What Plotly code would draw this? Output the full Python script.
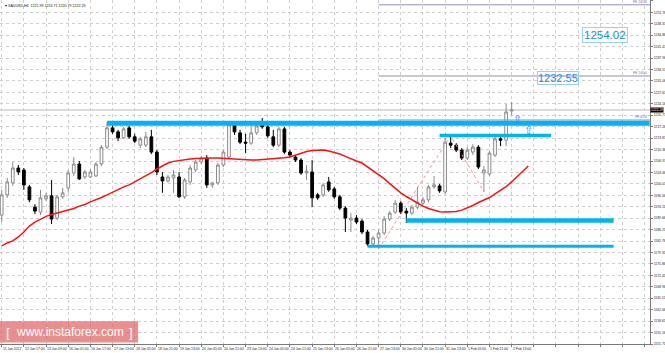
import plotly.graph_objects as go

# ---------------- data (XAUUSD H4) ----------------
opens = [1190.6, 1196.7, 1200.3, 1204.8, 1204.2, 1199.1, 1193.0, 1191.5, 1195.5, 1196.4,
         1189.7, 1196.1, 1198.8, 1203.3, 1206.0, 1202.1, 1202.1, 1202.4, 1206.0, 1211.1,
         1216.9, 1215.7, 1213.9, 1216.9, 1214.2, 1211.7, 1211.7, 1214.2, 1209.6, 1202.1,
         1200.9, 1201.8, 1202.1, 1196.1, 1200.6, 1204.2, 1206.6, 1207.8, 1199.7, 1200.3,
         1205.7, 1208.1, 1217.8, 1215.4, 1212.6, 1212.3, 1215.4, 1217.8, 1217.2, 1214.2,
         1211.7, 1216.6, 1209.6, 1208.1, 1207.2, 1203.3, 1203.6, 1196.7, 1196.7, 1200.6,
         1198.5, 1196.1, 1192.7, 1189.1, 1189.7, 1188.8, 1185.5, 1181.9, 1183.7, 1185.2,
         1189.4, 1191.5, 1194.2, 1191.8, 1191.2, 1193.0, 1194.2, 1195.2, 1199.1, 1199.4,
         1197.6, 1212.3, 1211.7, 1210.2, 1207.8, 1209.6, 1211.1, 1203.3, 1203.0, 1208.7,
         1213.6, 1213.2, 1221.99]
highs = [1198.2, 1201.8, 1206.6, 1205.7, 1204.8, 1199.7, 1193.9, 1198.2, 1197.3, 1201.2,
         1196.7, 1198.8, 1204.2, 1208.1, 1206.9, 1204.2, 1204.5, 1206.6, 1211.7, 1218.7,
         1218.7, 1216.3, 1217.2, 1217.5, 1215.1, 1214.2, 1215.7, 1216.3, 1210.2, 1203.6,
         1202.7, 1204.2, 1203.6, 1201.8, 1205.7, 1207.2, 1208.4, 1208.7, 1200.6, 1206.3,
         1210.2, 1218.9, 1218.7, 1216.3, 1215.1, 1218.4, 1218.1, 1219.9, 1217.8, 1216.3,
         1217.2, 1217.2, 1210.2, 1208.7, 1207.8, 1205.7, 1207.2, 1197.3, 1200.3, 1202.1,
         1199.1, 1196.7, 1193.3, 1191.2, 1190.6, 1189.4, 1186.1, 1184.3, 1186.1, 1190.3,
         1191.8, 1195.2, 1194.8, 1192.7, 1193.6, 1199.1, 1196.1, 1199.7, 1202.4, 1200.0,
         1213.9, 1214.5, 1212.3, 1210.8, 1211.1, 1212.0, 1211.7, 1205.4, 1209.9, 1214.2,
         1214.5, 1224.1, 1224.71]
lows = [1188.5, 1195.8, 1199.4, 1202.7, 1198.2, 1194.5, 1190.9, 1190.6, 1194.8, 1187.9,
        1189.1, 1195.5, 1197.6, 1202.4, 1201.2, 1201.5, 1201.8, 1202.1, 1205.4, 1210.5,
        1215.1, 1212.9, 1213.6, 1213.6, 1212.3, 1210.8, 1211.1, 1209.0, 1202.7, 1197.3,
        1200.3, 1197.3, 1195.8, 1195.5, 1199.7, 1203.6, 1206.0, 1198.8, 1198.8, 1199.7,
        1205.1, 1207.8, 1214.8, 1212.0, 1209.3, 1211.7, 1214.8, 1216.6, 1213.9, 1211.1,
        1211.1, 1209.0, 1208.1, 1206.6, 1202.7, 1201.2, 1193.0, 1195.2, 1196.1, 1197.6,
        1195.5, 1192.1, 1185.5, 1185.5, 1187.9, 1184.9, 1181.3, 1181.0, 1180.4, 1184.6,
        1188.8, 1190.9, 1190.9, 1188.2, 1190.6, 1192.4, 1193.6, 1194.5, 1198.5, 1197.3,
        1197.0, 1210.8, 1209.6, 1207.2, 1207.2, 1208.7, 1204.5, 1197.6, 1202.4, 1208.1,
        1211.4, 1211.4, 1220.79]
closes = [1196.7, 1200.6, 1204.8, 1203.6, 1199.7, 1195.2, 1191.8, 1195.8, 1196.4, 1189.4,
          1196.1, 1197.3, 1203.3, 1206.0, 1201.5, 1203.6, 1203.6, 1206.0, 1211.1, 1216.9,
          1215.7, 1213.9, 1216.6, 1214.2, 1212.9, 1213.6, 1214.2, 1209.6, 1203.6, 1200.9,
          1202.1, 1202.7, 1196.1, 1201.2, 1204.8, 1206.6, 1207.8, 1199.7, 1200.3, 1205.7,
          1209.6, 1217.8, 1215.7, 1212.6, 1212.3, 1215.4, 1217.5, 1217.2, 1214.5, 1211.7,
          1216.6, 1209.6, 1208.7, 1207.2, 1203.3, 1203.9, 1195.8, 1195.8, 1199.7, 1198.2,
          1196.1, 1192.7, 1189.7, 1189.7, 1188.5, 1185.5, 1181.9, 1183.7, 1185.2, 1189.4,
          1191.2, 1194.2, 1191.5, 1191.2, 1193.0, 1194.5, 1195.2, 1199.1, 1199.7, 1197.9,
          1212.6, 1211.7, 1210.2, 1207.8, 1210.2, 1211.1, 1205.1, 1204.2, 1209.3, 1213.6,
          1213.2, 1221.7, 1222.29]

# shifted moving average (extends 3 bars past the last candle)
ma_values = [1181.3, 1182.2, 1182.8, 1184.0, 1185.5, 1187.3, 1188.5, 1189.4, 1190.2, 1190.8,
             1191.2, 1191.7, 1192.1, 1192.6, 1193.3, 1193.8, 1194.6, 1195.2, 1195.9, 1196.7,
             1197.6, 1198.3, 1199.1, 1199.7, 1200.6, 1201.5, 1202.4, 1203.4, 1204.5, 1205.4,
             1206.3, 1206.8, 1207.1, 1207.3, 1207.5, 1207.7, 1207.8, 1207.8, 1207.8, 1207.8,
             1207.7, 1207.5, 1207.4, 1207.2, 1207.2, 1207.2, 1207.2, 1207.3, 1207.4, 1207.6,
             1207.8, 1207.9, 1208.1, 1208.7, 1209.3, 1209.8, 1210.1, 1210.2, 1210.2, 1209.9,
             1209.5, 1209.0, 1208.3, 1207.5, 1206.9, 1206.3, 1205.1, 1203.9, 1202.8, 1201.6,
             1200.1, 1198.6, 1197.3, 1196.2, 1195.2, 1194.2, 1193.3, 1192.6, 1192.0, 1191.6,
             1191.5, 1191.6, 1191.7, 1192.1, 1192.7, 1193.5, 1194.4, 1195.2, 1195.9, 1197.0,
             1198.0, 1199.2, 1200.6, 1202.1, 1203.6, 1205.4]

time_labels = ["11 Jan 2017", "12 Jan 17:00", "13 Jan 09:00", "16 Jan 01:00", "16 Jan 17:00",
               "17 Jan 13:00", "18 Jan 05:00", "18 Jan 21:00", "19 Jan 13:00", "20 Jan 05:00",
               "20 Jan 21:00", "23 Jan 13:00", "24 Jan 05:00", "24 Jan 21:00", "25 Jan 13:00",
               "26 Jan 05:00", "26 Jan 21:00", "27 Jan 13:00", "30 Jan 05:00", "30 Jan 21:00",
               "31 Jan 13:00", "1 Feb 05:00", "1 Feb 21:00", "2 Feb 13:00"]
label_step = 4

# support / resistance levels (price, start bar, end bar, thickness)
level_prices = [1218.3, 1214.6, 1189.0, 1181.2]
level_start = [19, 79, 73, 66]
level_end = [116.9, 99.1, 110.4, 110.4]
level_width = [5, 3.5, 4.5, 3]

# Fibonacci expansion
fibo_bars = [68, 81, 87]
fe_levels = [1219.28, 1232.55, 1254.02]
fe_names = ["FE 61.8", "FE 100.0", "FE 161.8"]
fe_start = 68

# arrows
arrow_bars = [93.1, 95.1]
arrow_prices = [1219.3, 1216.0]

symbol = "XAUUSD,H4"
FONT = "Liberation Sans"

n = len(opens)
xs = list(range(n))

fig = go.Figure()
fig.add_trace(go.Candlestick(
    x=xs, open=opens, high=highs, low=lows, close=closes,
    increasing=dict(fillcolor="white", line=dict(color="#8a8a8a", width=1)),
    decreasing=dict(fillcolor="black", line=dict(color="black", width=1)),
    hoverinfo="skip", showlegend=False))

fig.add_trace(go.Scatter(x=list(range(len(ma_values))), y=ma_values, mode="lines",
                         line=dict(color="#ff1010", width=1.5), hoverinfo="skip", showlegend=False))

fibo_prices = [lows[fibo_bars[0]], highs[fibo_bars[1]], lows[fibo_bars[2]]]
fig.add_trace(go.Scatter(x=fibo_bars, y=fibo_prices, mode="lines",
                         line=dict(color="#ff8a8a", width=1, dash="dot"),
                         hoverinfo="skip", showlegend=False))

shapes = []
xr = [-0.307, 116.96]
# bid line
shapes.append(dict(type="line", xref="paper", yref="y", x0=0, x1=1, y0=closes[-1], y1=closes[-1],
                   line=dict(color="#b8b8b8", width=1), layer="below"))
for p, name in zip(fe_levels, fe_names):
    shapes.append(dict(type="line", xref="x", yref="y", x0=fe_start, x1=xr[1], y0=p, y1=p,
                       line=dict(color="#8e8ec0", width=1)))
for p, s, e, w in zip(level_prices, level_start, level_end, level_width):
    shapes.append(dict(type="line", xref="x", yref="y", x0=s, x1=e, y0=p, y1=p,
                       line=dict(color="#00b4f4", width=w)))
# watermark box
shapes.append(dict(type="rect", xref="paper", yref="paper", x0=0, x1=0.2125, y0=0.004, y1=0.066,
                   fillcolor="rgba(222,90,90,0.68)", line=dict(width=0)))

ann = []
for i, t in enumerate(time_labels):
    ann.append(dict(x=i * label_step, y=0, xref="x", yref="paper", text=t, showarrow=False,
                    xanchor="left", yanchor="top", xshift=-1, yshift=-1,
                    font=dict(family=FONT, size=3.4, color="#222")))
for p, name in zip(fe_levels, fe_names):
    ann.append(dict(x=0.998, y=p, xref="paper", yref="y", text=name, showarrow=False,
                    xanchor="right", yanchor="bottom", yshift=-1,
                    font=dict(family=FONT, size=3.4, color="#7070b0")))
for bx, by in zip(arrow_bars, arrow_prices):
    ann.append(dict(x=bx, y=by, xref="x", yref="y", text="⇧", showarrow=False,
                    xanchor="center", yanchor="middle",
                    font=dict(family="DejaVu Sans", size=11, color="#1e90ff")))
# price text objects
ann.append(dict(x=100.4, y=1231.8, xref="x", yref="y", text=f"{fe_levels[1]:.2f}", showarrow=False,
                xanchor="center", yanchor="middle",
                font=dict(family=FONT, size=11, color="#1e8ee8"),
                bordercolor="#9ccff5", borderwidth=1, borderpad=0))
ann.append(dict(x=108.8, y=1244.9, xref="x", yref="y", text=f"{fe_levels[2]:.2f}", showarrow=False,
                xanchor="center", yanchor="middle",
                font=dict(family=FONT, size=11.5, color="#1e8ee8"),
                bordercolor="#9ccff5", borderwidth=1, borderpad=1))
# current price marker on axis
ann.append(dict(x=1, y=closes[-1], xref="paper", yref="y", text=f"{closes[-1]:.2f}", showarrow=False,
                xanchor="left", yanchor="middle", bgcolor="black", borderpad=0,
                font=dict(family=FONT, size=3.4, color="white")))
# header
ann.append(dict(x=0.004, y=1, xref="paper", yref="paper",
                text=f"▾ {symbol}  {opens[-1]:.2f} {highs[-1]:.2f} {lows[-1]:.2f} {closes[-1]:.2f}",
                showarrow=False, xanchor="left", yanchor="top", yshift=-2,
                font=dict(family=FONT, size=3.6, color="#111")))
# watermark text
ann.append(dict(x=0.013, y=0.034, xref="paper", yref="paper", text="[", showarrow=False,
                xanchor="center", yanchor="middle",
                font=dict(family=FONT, size=13.5, color="white")))
ann.append(dict(x=0.107, y=0.034, xref="paper", yref="paper", text="www.instaforex.com", showarrow=False,
                xanchor="center", yanchor="middle",
                font=dict(family=FONT, size=12, color="white")))
ann.append(dict(x=0.202, y=0.034, xref="paper", yref="paper", text="]", showarrow=False,
                xanchor="center", yanchor="middle",
                font=dict(family=FONT, size=13.5, color="white")))

fig.update_layout(
    width=665, height=353, margin=dict(l=0, r=15, t=0, b=9),
    paper_bgcolor="white", plot_bgcolor="white", showlegend=False,
    font=dict(family=FONT, size=4, color="#222"),
    shapes=shapes, annotations=ann,
    xaxis=dict(range=xr, tick0=0, dtick=label_step, showticklabels=False,
               showgrid=True, gridcolor="#cfcfcf", griddash="dot", gridwidth=1,
               zeroline=False, showline=True, linecolor="#7a7a7a", linewidth=1,
               ticks="outside", ticklen=2, tickcolor="#7a7a7a",
               rangeslider=dict(visible=False), fixedrange=True),
    yaxis=dict(side="right", range=[1151.72, 1255.47], tick0=1251.76, dtick=3.45,
               tickformat=".2f", showgrid=True, gridcolor="#cfcfcf", griddash="dot", gridwidth=1,
               zeroline=False, showline=True, linecolor="#7a7a7a", linewidth=1,
               ticks="outside", ticklen=2, tickcolor="#7a7a7a",
               tickfont=dict(family=FONT, size=3.4, color="#222"), fixedrange=True),
)

fig.write_html("out.html")
